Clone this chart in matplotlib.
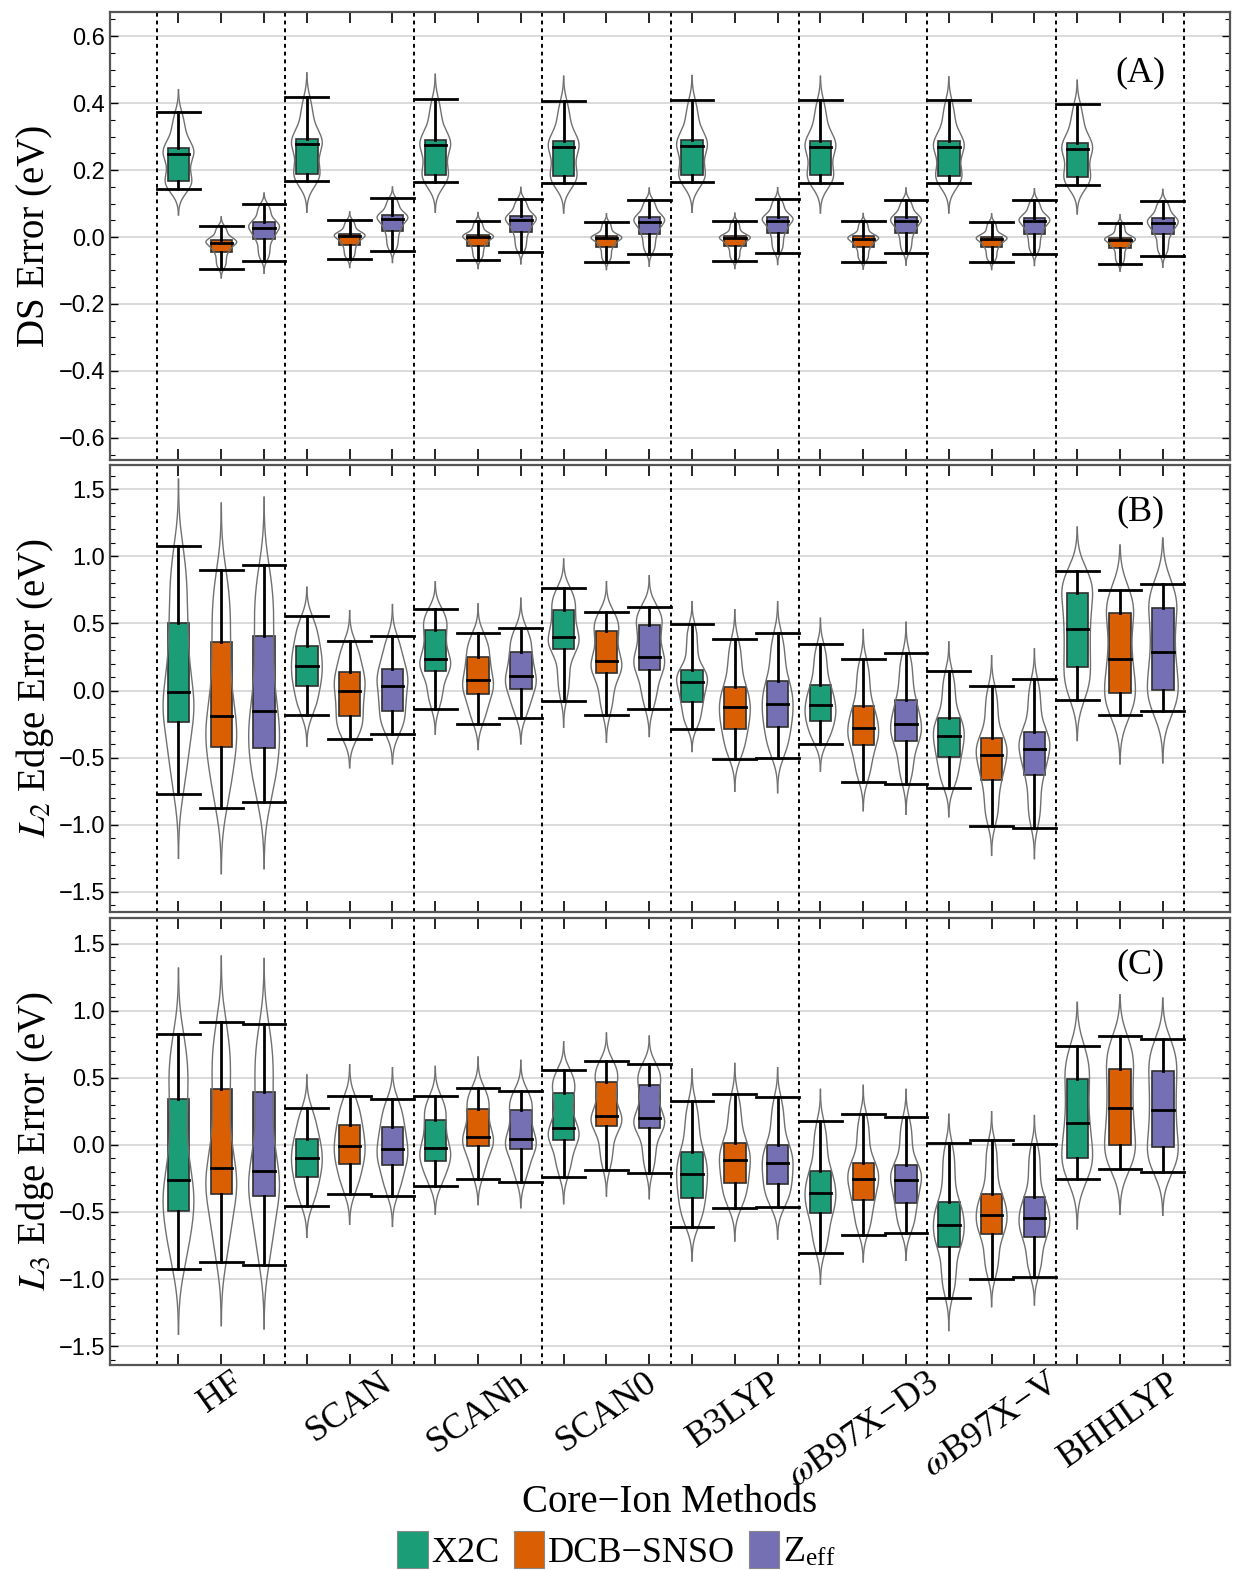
import math
import numpy as np
import matplotlib
matplotlib.use("Agg")
import matplotlib.pyplot as plt
from matplotlib.patches import Patch, Rectangle
from matplotlib.ticker import MultipleLocator, FixedLocator, FixedFormatter, NullFormatter

plt.rcParams['font.family'] = ['Liberation Serif', 'DejaVu Serif']
plt.rcParams['mathtext.fontset'] = 'stix'


""" 1. Data read off the chart """

methods = ['HF', 'SCAN', 'SCANh', 'SCAN0', 'B3LYP',
           r'$\omega$B97X−D3', r'$\omega$B97X−V', 'BHHLYP']
series = ['X2C', 'DCB−SNSO', r'Z$_\mathregular{eff}$']
colors = ['#1b9e77', '#d95f02', '#7570b3']

# each entry: (whisker low, q1, median, q3, whisker high, violin min, violin max)
ds_x2c = [(0.144, 0.168, 0.247, 0.267, 0.373, 0.066, 0.440),
          (0.166, 0.189, 0.278, 0.294, 0.417, 0.074, 0.490),
          (0.163, 0.186, 0.274, 0.291, 0.413, 0.074, 0.486),
          (0.160, 0.183, 0.269, 0.288, 0.407, 0.072, 0.480),
          (0.163, 0.186, 0.272, 0.290, 0.410, 0.074, 0.482),
          (0.161, 0.184, 0.270, 0.287, 0.408, 0.072, 0.480),
          (0.160, 0.183, 0.270, 0.286, 0.408, 0.072, 0.478),
          (0.156, 0.179, 0.262, 0.281, 0.397, 0.069, 0.468)]
ds_dcb = [(-0.096, -0.044, -0.017, -0.009, 0.034, -0.122, 0.060),
          (-0.067, -0.023, 0.003, 0.009, 0.051, -0.091, 0.075),
          (-0.070, -0.026, 0.001, 0.005, 0.049, -0.094, 0.073),
          (-0.075, -0.029, -0.003, 0.002, 0.046, -0.097, 0.069),
          (-0.072, -0.027, -0.003, 0.003, 0.048, -0.094, 0.071),
          (-0.074, -0.030, -0.005, 0.002, 0.047, -0.096, 0.070),
          (-0.074, -0.030, -0.005, 0.001, 0.046, -0.097, 0.069),
          (-0.081, -0.032, -0.008, -0.002, 0.043, -0.102, 0.066)]
ds_zeff = [(-0.071, -0.006, 0.026, 0.044, 0.100, -0.108, 0.131),
           (-0.042, 0.018, 0.054, 0.066, 0.117, -0.076, 0.149),
           (-0.046, 0.015, 0.050, 0.063, 0.114, -0.080, 0.148),
           (-0.050, 0.010, 0.046, 0.060, 0.112, -0.087, 0.146),
           (-0.048, 0.013, 0.049, 0.061, 0.114, -0.082, 0.147),
           (-0.049, 0.012, 0.047, 0.060, 0.112, -0.084, 0.146),
           (-0.050, 0.010, 0.047, 0.058, 0.111, -0.085, 0.144),
           (-0.056, 0.009, 0.041, 0.057, 0.108, -0.090, 0.142)]

l2_x2c = [(-0.769, -0.233, -0.010, 0.500, 1.078, -1.250, 1.574),
          (-0.186, 0.030, 0.181, 0.335, 0.553, -0.414, 0.769),
          (-0.139, 0.144, 0.238, 0.451, 0.610, -0.325, 0.810),
          (-0.075, 0.307, 0.399, 0.597, 0.766, -0.273, 0.979),
          (-0.283, -0.084, 0.064, 0.156, 0.496, -0.454, 0.662),
          (-0.399, -0.226, -0.109, 0.040, 0.347, -0.600, 0.538),
          (-0.729, -0.496, -0.337, -0.206, 0.149, -0.940, 0.362),
          (-0.072, 0.176, 0.456, 0.724, 0.893, -0.372, 1.217)]
l2_dcb = [(-0.878, -0.419, -0.189, 0.359, 0.897, -1.364, 1.396),
          (-0.362, -0.189, 0.000, 0.139, 0.369, -0.575, 0.595),
          (-0.250, -0.027, 0.077, 0.246, 0.427, -0.439, 0.645),
          (-0.186, 0.131, 0.218, 0.441, 0.583, -0.384, 0.810),
          (-0.511, -0.285, -0.126, 0.027, 0.384, -0.751, 0.602),
          (-0.680, -0.409, -0.280, -0.117, 0.235, -0.895, 0.454),
          (-1.009, -0.665, -0.479, -0.352, 0.037, -1.228, 0.258),
          (-0.184, -0.017, 0.238, 0.575, 0.749, -0.546, 1.083)]
l2_zeff = [(-0.831, -0.427, -0.154, 0.404, 0.932, -1.327, 1.440),
           (-0.327, -0.151, 0.035, 0.161, 0.404, -0.546, 0.640),
           (-0.203, 0.012, 0.109, 0.285, 0.469, -0.397, 0.687),
           (-0.139, 0.154, 0.253, 0.488, 0.620, -0.342, 0.855),
           (-0.501, -0.270, -0.099, 0.069, 0.431, -0.761, 0.660),
           (-0.697, -0.377, -0.253, -0.070, 0.283, -0.922, 0.508),
           (-1.024, -0.630, -0.434, -0.310, 0.084, -1.252, 0.310),
           (-0.154, 0.005, 0.285, 0.615, 0.791, -0.538, 1.135)]

l3_x2c = [(-0.922, -0.493, -0.264, 0.341, 0.825, -1.411, 1.316),
          (-0.458, -0.242, -0.100, 0.043, 0.274, -0.689, 0.520),
          (-0.309, -0.118, -0.021, 0.187, 0.361, -0.515, 0.584),
          (-0.242, 0.033, 0.123, 0.388, 0.555, -0.438, 0.768),
          (-0.614, -0.393, -0.215, -0.052, 0.326, -0.865, 0.565),
          (-0.808, -0.510, -0.359, -0.197, 0.177, -1.038, 0.413),
          (-1.138, -0.763, -0.597, -0.423, 0.017, -1.383, 0.227),
          (-0.254, -0.096, 0.163, 0.488, 0.736, -0.626, 1.061)]
l3_dcb = [(-0.870, -0.368, -0.175, 0.413, 0.914, -1.346, 1.406),
          (-0.364, -0.145, -0.009, 0.148, 0.361, -0.592, 0.597),
          (-0.254, -0.011, 0.061, 0.269, 0.423, -0.445, 0.654),
          (-0.187, 0.143, 0.217, 0.468, 0.624, -0.381, 0.833),
          (-0.473, -0.282, -0.115, 0.016, 0.378, -0.716, 0.606),
          (-0.669, -0.413, -0.254, -0.133, 0.232, -0.872, 0.443),
          (-0.996, -0.666, -0.525, -0.368, 0.035, -1.205, 0.246),
          (-0.182, -0.001, 0.272, 0.567, 0.808, -0.517, 1.118)]
l3_zeff = [(-0.892, -0.381, -0.192, 0.391, 0.897, -1.371, 1.388),
           (-0.383, -0.153, -0.029, 0.133, 0.344, -0.607, 0.574),
           (-0.277, -0.031, 0.043, 0.257, 0.403, -0.468, 0.629),
           (-0.210, 0.123, 0.200, 0.448, 0.604, -0.401, 0.810),
           (-0.465, -0.294, -0.138, -0.002, 0.356, -0.701, 0.574),
           (-0.659, -0.430, -0.261, -0.152, 0.210, -0.860, 0.413),
           (-0.986, -0.684, -0.548, -0.391, 0.010, -1.192, 0.218),
           (-0.202, -0.018, 0.262, 0.547, 0.785, -0.525, 1.093)]

panels = [
    dict(data=[ds_x2c, ds_dcb, ds_zeff], ylabel='DS Error (eV)', tag='(A)',
         ylim=(-0.666, 0.672), major=0.2, minor=0.05, tagy=0.864),
    dict(data=[l2_x2c, l2_dcb, l2_zeff], ylabel=r'$L_2$ Edge Error (eV)', tag='(B)',
         ylim=(-1.65, 1.68), major=0.5, minor=0.1, tagy=0.895),
    dict(data=[l3_x2c, l3_dcb, l3_zeff], ylabel=r'$L_3$ Edge Error (eV)', tag='(C)',
         ylim=(-1.64, 1.69), major=0.5, minor=0.1, tagy=0.895),
]

erf = np.vectorize(math.erf)


""" 2. Helpers """

def Phi(z):
    return 0.5 * (1.0 + erf(z / math.sqrt(2.0)))

def violin_profile(st, n=300):
    # smooth density built from the quartile intervals (each holds 1/4 of the mass)
    wlo, q1, med, q3, whi, vmin, vmax = st
    h = ((wlo - vmin) + (vmax - whi)) / 2.0 / 2.5
    y = np.linspace(vmin, vmax, n)
    d = np.zeros_like(y)
    edges = [wlo, q1, med, q3, whi]
    for a, b in zip(edges[:-1], edges[1:]):
        if b - a < 1e-9:
            continue
        d += 0.25 / (b - a) * (Phi((y - a) / h) - Phi((y - b) / h))
    return y, d / d.max()

def draw_item(ax, pos, st, color):
    wlo, q1, med, q3, whi, vmin, vmax = st
    ax.add_patch(Rectangle((pos - 0.25, q1), 0.5, q3 - q1, facecolor=color,
                           edgecolor='#303030', lw=1.2, zorder=2))
    y, w = violin_profile(st)
    ax.plot(pos + 0.36 * w, y, color='#707070', lw=1.0, zorder=3)
    ax.plot(pos - 0.36 * w, y, color='#707070', lw=1.0, zorder=3)
    ax.plot([pos, pos], [wlo, q1], color='black', lw=2, zorder=4)
    ax.plot([pos, pos], [q3, whi], color='black', lw=2, zorder=4)
    ax.plot([pos - 0.5, pos + 0.5], [wlo, wlo], color='black', lw=2, zorder=4)
    ax.plot([pos - 0.5, pos + 0.5], [whi, whi], color='black', lw=2, zorder=4)
    ax.plot([pos - 0.25, pos + 0.25], [med, med], color='black', lw=2, zorder=4)


""" 3. The figure """

fig = plt.figure(figsize=(12.33, 15.70), dpi=100)
W, H = 1233.0, 1570.0
boxes = [(12, 460), (465, 912), (918, 1365)]
positions = [3 * g + s + 1 for g in range(len(methods)) for s in range(3)]
tick_names = [methods[g] if s == 1 else '' for g in range(len(methods)) for s in range(3)]
separators = [3 * g + 0.5 for g in range(len(methods) + 1)]

for k, (p, (top, bot)) in enumerate(zip(panels, boxes)):
    ax = fig.add_axes([110 / W, 1 - bot / H, 1120 / W, (bot - top) / H])

    for g in range(len(methods)):
        for s in range(3):
            draw_item(ax, 3 * g + s + 1, p['data'][s][g], colors[s])

    for xs in separators:
        ax.axvline(xs, color='black', lw=1.4, ls=(0, (2, 2)), zorder=1)

    ax.set_xlim(-0.6, 25.57)
    ax.set_ylim(*p['ylim'])
    ax.yaxis.set_major_locator(MultipleLocator(p['major']))
    ax.yaxis.set_minor_locator(MultipleLocator(p['minor']))
    ax.grid(axis='y', which='major', color='#d4d4d4', lw=1.2, zorder=0)
    ax.set_axisbelow(True)

    ax.xaxis.set_major_locator(FixedLocator(positions))
    if k == 2:
        ax.xaxis.set_major_formatter(FixedFormatter(tick_names))
    else:
        ax.xaxis.set_major_formatter(NullFormatter())
    ax.tick_params(axis='x', which='major', direction='in', top=True, bottom=True,
                   length=8, width=1.2, pad=1, labelsize=26)
    ax.tick_params(axis='y', which='major', direction='in', left=True, right=True,
                   length=6, width=1.0, labelsize=17)
    ax.tick_params(axis='y', which='minor', direction='in', left=True, right=True,
                   length=3.5, width=0.8)
    for lab in ax.get_yticklabels():
        lab.set_fontfamily(['Liberation Sans', 'DejaVu Sans'])
    if k == 2:
        for lab in ax.get_xticklabels():
            lab.set_rotation(35)
            lab.set_ha('center')
            lab.set_va('top')

    for sp in ax.spines.values():
        sp.set_color('#555555')
        sp.set_linewidth(1.6)

    ax.set_ylabel(p['ylabel'], fontsize=28, va='center')
    ax.yaxis.set_label_coords(-0.067, 0.5)
    ax.text(0.92, p['tagy'], p['tag'], transform=ax.transAxes, fontsize=26,
            ha='center', va='center')

fig.text(670 / W, 1 - 1503 / H, 'Core−Ion Methods', fontsize=28,
         ha='center', va='center')

handles = [Patch(facecolor=c, edgecolor='#888888', lw=0.8) for c in colors]
fig.legend(handles, series, loc='lower center', bbox_to_anchor=(0.5, -0.009),
           ncol=3, frameon=False, fontsize=26, handlelength=0.85, handleheight=1.2,
           handletextpad=0.1, columnspacing=0.38, borderaxespad=0.0)

fig.savefig('out.png', dpi=100)
